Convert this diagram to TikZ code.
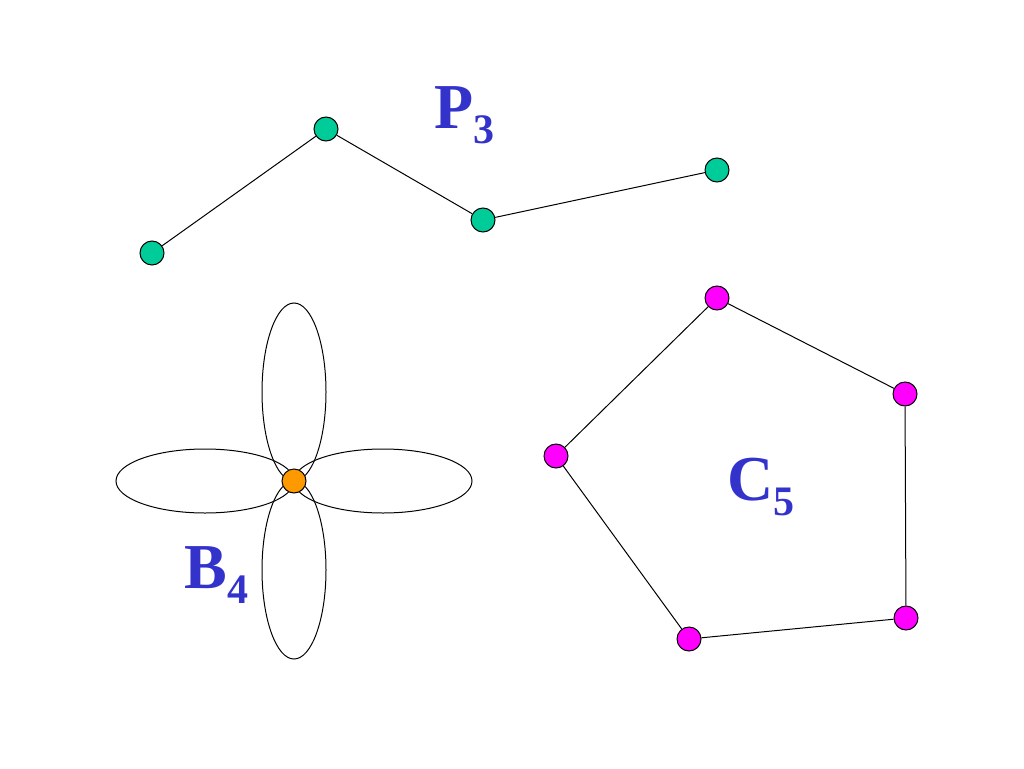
\documentclass[tikz,border=0pt]{standalone}
\usepackage{fontspec}
\setmainfont{Liberation Serif}
\definecolor{dotgreen}{RGB}{0,204,153}
\definecolor{dotpink}{RGB}{255,0,255}
\definecolor{dotorange}{RGB}{255,153,0}
\definecolor{labelblue}{RGB}{51,51,204}
\tikzset{
  vert/.style={circle, draw=black, line width=1pt, inner sep=0pt, minimum size=24pt},
  glabel/.style={anchor=base west, inner sep=0pt, text=labelblue, font=\bfseries\fontsize{64}{64}\selectfont},
}
\newcommand{\subnum}[1]{\raisebox{-15pt}{\fontsize{42}{42}\selectfont #1}}
\begin{document}
\begin{tikzpicture}[x=1pt, y=-1pt, line width=1pt]
  \useasboundingbox (0,0) rectangle (1024,768);

  % P_3
  \node[vert, fill=dotgreen] (p1) at (152,253) {};
  \node[vert, fill=dotgreen] (p2) at (326,129) {};
  \node[vert, fill=dotgreen] (p3) at (483,220) {};
  \node[vert, fill=dotgreen] (p4) at (717,170) {};
  \draw (p1) -- (p2) -- (p3) -- (p4);
  \node[glabel] (plabel) at (434,128) {P\subnum{3}};

  % B_4
  \draw (294,392) ellipse (32 and 89);
  \draw (294,570) ellipse (32 and 89);
  \draw (205,481) ellipse (89 and 32);
  \draw (383,481) ellipse (89 and 32);
  \node[vert, fill=dotorange] (b) at (294,481) {};
  \node[glabel] (blabel) at (184,588) {B\subnum{4}};

  % C_5
  \node[vert, fill=dotpink] (c1) at (717,298) {};
  \node[vert, fill=dotpink] (c2) at (905,394) {};
  \node[vert, fill=dotpink] (c3) at (906,618) {};
  \node[vert, fill=dotpink] (c4) at (689,639) {};
  \node[vert, fill=dotpink] (c5) at (556,456) {};
  \draw (c1) -- (c2) -- (c3) -- (c4) -- (c5) -- (c1);
  \node[glabel] (clabel) at (727,500) {C\subnum{5}};

\end{tikzpicture}
\end{document}
